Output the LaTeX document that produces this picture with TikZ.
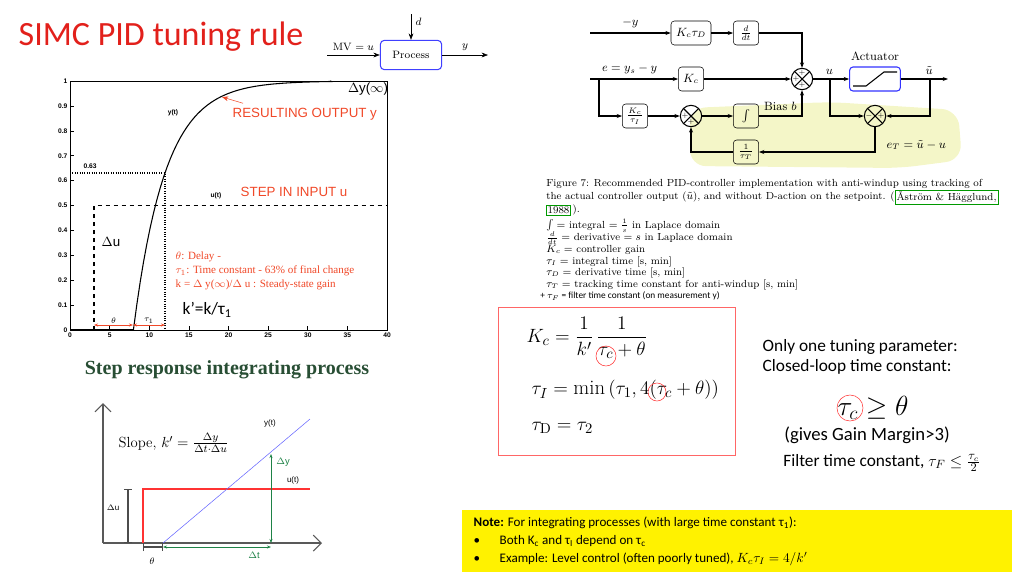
\documentclass[tikz,border=0pt]{standalone}
\usepackage{fontspec}
\usepackage{amsmath,amssymb}
\newfontfamily\carl{Carlito}
\newfontfamily\arl{Liberation Sans}
\newfontfamily\tnr{Liberation Serif}
\usetikzlibrary{arrows.meta,positioning}
\definecolor{titlered}{RGB}{226,32,27}
\definecolor{plotred}{RGB}{240,72,40}
\definecolor{hlyellow}{RGB}{244,246,200}
\definecolor{stepgreen}{RGB}{40,78,52}
\definecolor{dgreen}{RGB}{30,130,70}
\tikzset{
  blk/.style={draw, rounded corners=2.5pt, minimum height=18pt, minimum width=19pt, inner sep=1pt, font=\small},
  sumnode/.style={draw, circle, minimum size=16pt, inner sep=0pt, thick,
    path picture={\draw (path picture bounding box.north west) -- (path picture bounding box.south east)
      (path picture bounding box.north east) -- (path picture bounding box.south west);}},
  sgn/.style={font=\fontsize{5}{5}\selectfont, inner sep=0pt},
  tick/.style={font=\arl\bfseries\fontsize{5}{5}\selectfont, inner sep=1pt},
  sig/.style={-{Stealth[length=4pt]}, thick},
  redcirc/.style={draw=red!80, thin},
  legline/.style={anchor=west, inner sep=0pt, font=\fontsize{7.7}{9}\selectfont},
  citebox/.style={legline, draw=green!60!black, inner sep=1pt}
}
\begin{document}
\begin{tikzpicture}[x=0.75pt,y=-0.75pt]
\useasboundingbox (0,0) rectangle (1024,576);

% title and process
\node[anchor=west, text=titlered, font=\carl\fontsize{25.5}{30}\selectfont] (title) at (14,37) {SIMC PID tuning rule};
\node[draw=blue!75, thick, rounded corners=3pt, minimum width=46pt, minimum height=22pt, font=\footnotesize] (proc) at (411,55) {Process};
\coordinate (mvin) at (327,55);
\coordinate (dtop) at (411,14);
\coordinate (yout) at (488,55);
\draw[-Stealth] (mvin) -- node[above, font=\footnotesize] {MV $=u$} (proc);
\draw[-Stealth] (dtop) -- node[right, font=\footnotesize, pos=0.3] {$d$} (proc);
\draw[-Stealth] (proc) -- node[above, font=\footnotesize] {$y$} (yout);

% step response plot
\draw (70,81) rectangle (387,330);
\foreach \t in {0,5,...,40} {
  \draw ({70+\t*7.925},330) -- ({70+\t*7.925},326);
  \node[tick, below] at ({70+\t*7.925},331) {\t};
}
\foreach \v/\l in {0/0,1/0.1,2/0.2,3/0.3,4/0.4,5/0.5,6/0.6,7/0.7,8/0.8,9/0.9,10/1} {
  \draw (70,{330-\v*24.9}) -- (74,{330-\v*24.9});
  \node[tick, left] at (69,{330-\v*24.9}) {\l};
}
\draw[thick] (70,330) -- (133,330);
\draw[thick] plot[domain=8:33, samples=60] ({70+\x*7.925},{330-249*(1-exp(-(\x-8)/4))}) -- (330,81);
\draw[very thick, dashed] (94,330) -- (94,205.5) -- (387,205.5);
\draw[densely dotted, thick] (70,173) -- (165,173) -- (165,330);
\coordinate (thA) at (94,325);
\coordinate (thB) at (133,325);
\coordinate (tuB) at (165,325);
\draw[{Stealth[length=3pt]}-{Stealth[length=3pt]}, plotred] (thA) -- node[above, tick, text=black, font=\tnr\fontsize{6}{6}\selectfont] {$\theta$} (thB);
\draw[{Stealth[length=3pt]}-{Stealth[length=3pt]}, plotred] (thB) -- node[above, tick, text=black, font=\tnr\fontsize{6}{6}\selectfont] {$\tau_1$} (tuB);
\node[tick] (ylab) at (173,113) {y(t)};
\node[tick] (ulab) at (216,196) {u(t)};
\node[tick, anchor=west] (l63) at (82,166) {0.63};
\node[font=\arl\fontsize{10}{12}\selectfont] (dyinf) at (368,89) {$\Delta$y($\infty$)};
\node[font=\arl\fontsize{10}{12}\selectfont, text=plotred, anchor=west] (resout) at (228,114) {RESULTING OUTPUT y};
\coordinate (curvept) at (222,97);
\draw[-Stealth, plotred] (resout.north west) ++(15,0) coordinate (rtip) -- (curvept);
\node[font=\arl\fontsize{10}{12}\selectfont, text=plotred, anchor=west] (stepin) at (236,192) {STEP IN INPUT u};
\node[font=\arl\fontsize{10}{12}\selectfont, anchor=west] (du) at (97,242) {$\Delta$u};
\node[font=\tnr\fontsize{8.3}{10.6}\selectfont, text=plotred, anchor=north west, align=left] (defs) at (171,247)
  {$\theta$: Delay -\\ $\tau_1$: Time constant - 63\% of final change\\ k = $\Delta$ y($\infty$)/$\Delta$ u : Steady-state gain};
\node[font=\carl\fontsize{13}{15}\selectfont, anchor=west] (kprime) at (178,310) {k’=k/τ\textsubscript{1}};
\node[font=\tnr\bfseries\fontsize{15}{18}\selectfont, text=stepgreen] (steptitle) at (227,370) {Step response integrating process};

% integrating process sketch
\coordinate (yax) at (103,403);
\coordinate (org) at (103,543);
\coordinate (xax) at (322,543);
\draw[-{Straight Barb[length=6pt]}, thick, gray!70!black] (org) -- (yax);
\draw[-{Straight Barb[length=6pt]}, thick, gray!70!black] (org) -- (xax);
\draw[red!80, thick] (143,543) -- (143,489) -- (310,489);
\draw[blue!60] (163,543) -- (310,419);
\draw[|-|, thick, gray!60!black] (128,489) -- (128,543);
\draw[|-|, thick, gray!60!black] (143,547) -- (163,547);
\coordinate (dyT) at (271,454);
\coordinate (dyB) at (271,543);
\coordinate (dtL) at (163,547);
\coordinate (dtR) at (271,547);
\draw[{Stealth[length=3pt]}-{Stealth[length=3pt]}, dgreen] (dyT) -- (dyB);
\draw[{Stealth[length=3pt]}-{Stealth[length=3pt]}, dgreen] (dtL) -- (dtR);
\node[font=\fontsize{11}{13}\selectfont, anchor=west] (slope) at (114,443) {Slope, $k'=\frac{\Delta y}{\Delta t\cdot\Delta u}$};
\node[font=\arl\fontsize{6}{7}\selectfont] (ylab2) at (270,423) {y(t)};
\node[font=\arl\fontsize{7}{8}\selectfont, text=dgreen] (dylab) at (283,462) {$\Delta$y};
\node[font=\arl\fontsize{6}{7}\selectfont] (ulab2) at (293,480) {u(t)};
\node[font=\arl\fontsize{6}{7}\selectfont] (dulab) at (113,508) {$\Delta$u};
\node[font=\fontsize{7}{8}\selectfont] (thlab) at (152,561) {$\theta$};
\node[font=\arl\fontsize{7}{8}\selectfont, text=dgreen] (dtlab) at (254,555) {$\Delta$t};

% anti-windup PID block diagram
\fill[hlyellow, rounded corners=12pt] (690,108) -- (830,102) -- (958,110) -- (962,160) -- (900,168) -- (690,166) -- cycle;
\node[blk, minimum width=30pt] (kctd) at (691,33) {$K_c\tau_D$};
\node[blk] (ddt) at (746,33) {$\frac{d}{dt}$};
\node[blk] (kc) at (691,79) {$K_c$};
\node[blk] (kcti) at (635,116) {$\frac{K_c}{\tau_I}$};
\node[sumnode] (sumB) at (691,116) {};
\node[blk] (intg) at (746,116) {$\int$};
\node[sumnode] (sumA) at (802,79) {};
\node[blk, draw=blue!80, thick, minimum width=38pt] (act) at (875,79) {};
\draw[thick] (853,86) -- (866,86) -- (884,72) -- (897,72);
\node[font=\small, above=1pt of act] (actlab) {Actuator};
\node[sumnode] (sumC) at (875,116) {};
\node[blk] (invtt) at (746,152) {$\frac{1}{\tau_T}$};
\coordinate (ystart) at (590,33);
\coordinate (estart) at (590,79);
\coordinate (ebr) at (599,79);
\coordinate (ubr) at (830,79);
\coordinate (utap) at (930,79);
\coordinate (uout) at (948,79);
\draw[sig] (ystart) -- node[above, font=\small] {$-y$} (kctd);
\draw[sig] (kctd) -- (ddt);
\draw[sig] (ddt.east) -| (sumA.north);
\draw[sig] (estart) -- node[above, font=\small, pos=0.45] {$e=y_s-y$} (kc);
\draw[sig] (kc) -- (sumA);
\draw[sig] (ebr) |- (kcti);
\draw[sig] (kcti) -- (sumB);
\draw[sig] (sumB) -- (intg);
\draw[sig] (intg.east) -| node[pos=0.25, above, font=\small] {Bias $b$} (sumA.south);
\draw[sig] (sumA) -- node[pos=0.45, above, font=\small] {$u$} (act);
\draw[sig] (act) -- node[pos=0.6, above, font=\small] {$\tilde u$} (uout);
\draw[sig] (ubr) |- (sumC);
\draw[sig] (utap) |- (sumC);
\draw[sig] (sumC.south) |- (invtt);
\draw[sig] (invtt) -| (sumB.south);
\node[font=\small, anchor=west] (etlab) at (882,145) {$e_T=\tilde u-u$};
\node[sgn] at (802,73) {+}; \node[sgn] at (796,79) {+}; \node[sgn] at (802,85) {+};
\node[sgn] at (685,116) {+}; \node[sgn] at (691,122) {+};
\node[sgn] at (869,116) {$-$}; \node[sgn] at (881,116) {+};

% caption and legend
\node[legline] (cap1) at (546,184) {Figure 7: Recommended PID-controller implementation with anti-windup using tracking of};
\node[legline] (cap2) at (546,197) {the actual controller output ($\tilde u$), and without D-action on the setpoint. (};
\node[citebox, right=0pt of cap2] (cite) {Åström \& Hägglund,};
\node[citebox] (citeyr) at (546,210) {1988};
\node[legline, right=1pt of citeyr] (cap3) {).};
\node[legline] (leg1) at (546,226) {$\int=$ integral $=\frac{1}{s}$ in Laplace domain};
\node[legline] (leg2) at (546,238) {$\frac{d}{dt}=$ derivative $=s$ in Laplace domain};
\node[legline] (leg3) at (546,250) {$K_c=$ controller gain};
\node[legline] (leg4) at (546,262) {$\tau_I=$ integral time [s, min]};
\node[legline] (leg5) at (546,273) {$\tau_D=$ derivative time [s, min]};
\node[legline] (leg6) at (546,285) {$\tau_T=$ tracking time constant for anti-windup [s, min]};
\node[anchor=west, inner sep=0pt, font=\carl\fontsize{7}{8}\selectfont] (filt) at (540,296) {+ $\tau_F$ = filter time constant (on measurement y)};

% tuning rules
\draw[red!60] (498,307) rectangle (735,455);
\node[anchor=west, font=\fontsize{15.5}{18}\selectfont] (kceq) at (522,338) {$K_c=\dfrac{1}{k'}\,\dfrac{1}{\tau_c+\theta}$};
\node[anchor=west, font=\fontsize{15.5}{18}\selectfont] (tieq) at (527,390) {$\tau_I=\min\left(\tau_1,4(\tau_c+\theta)\right)$};
\node[anchor=west, font=\fontsize{15.5}{18}\selectfont] (tdeq) at (527,428) {$\tau_{\mathrm D}=\tau_2$};
\draw[redcirc] (606,356) circle (10);
\draw[redcirc] (657,392) circle (9);
\node[anchor=west, font=\carl\fontsize{13}{15}\selectfont, align=left] (onepar) at (758,357) {Only one tuning parameter:\\ Closed-loop time constant:};
\node[font=\fontsize{20}{24}\selectfont] (tcgeq) at (873,408) {$\tau_c\geq\theta$};
\draw[redcirc] (850,408) circle (13);
\node[font=\carl\fontsize{14}{16}\selectfont] (gm) at (867,435) {(gives Gain Margin>3)};
\node[font=\carl\fontsize{13}{15}\selectfont] (filtc) at (882,463) {Filter time constant, $\tau_F\leq\frac{\tau_c}{2}$};

% note
\fill[yellow] (462,510) rectangle (1012,572);
\node[anchor=west, font=\carl\fontsize{9.8}{11}\selectfont] (note1) at (469,523) {\textbf{Note:} For integrating processes (with large time constant τ\textsubscript{1}):};
\node[anchor=west, font=\carl\fontsize{9.8}{11}\selectfont] (b1) at (469,541) {•};
\node[anchor=west, font=\carl\fontsize{9.8}{11}\selectfont] (note2) at (495,541) {Both K\textsubscript{c} and τ\textsubscript{I} depend on τ\textsubscript{c}};
\node[anchor=west, font=\carl\fontsize{9.8}{11}\selectfont] (b2) at (469,559) {•};
\node[anchor=west, font=\carl\fontsize{9.8}{11}\selectfont] (note3) at (495,559) {Example: Level control (often poorly tuned), $K_c\tau_I=4/k'$};
\end{tikzpicture}
\end{document}
